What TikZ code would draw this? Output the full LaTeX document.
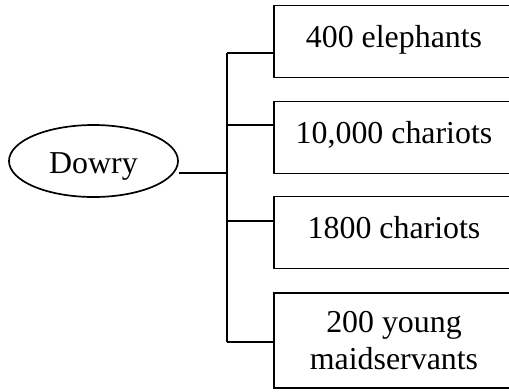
\documentclass[tikz,border=0pt]{standalone}
\usepackage{fontspec}
\setmainfont{Liberation Serif}
\usetikzlibrary{shapes.geometric}

\tikzset{
  txt/.style={font=\fontsize{32}{37}\selectfont},
  itembox/.style={txt, draw, inner sep=0pt, minimum width=240bp},
  oneline/.style={itembox, text height=41.5bp, text depth=30.5bp, anchor=base},
  rootnode/.style={txt, draw, ellipse, inner sep=0pt, minimum width=169bp,
    minimum height=72bp, text height=24bp, text depth=0pt},
}

\begin{document}
\begin{tikzpicture}[x=1bp, y=-1bp, line width=1.7bp]
  \useasboundingbox (0,0) rectangle (509,391);
  \clip (0,0) rectangle (509,391);

  % root
  \node[rootnode] (dowry) at (93.5,161) {Dowry};

  % the four items
  \node[oneline] (elephants) at (394,47) {400 elephants};
  \node[oneline] (chariotsA) at (394,143) {10,000 chariots};
  \node[oneline] (chariotsB) at (394,238) {1800 chariots};
  \node[itembox, align=center, minimum height=95bp] (maids) at (394,340.5)
    {200 young\\maidservants};

  % trunk and branch points
  \coordinate (hub) at (227,173);
  \coordinate (b1) at (227,53);
  \coordinate (b2) at (227,125);
  \coordinate (b3) at (227,221);
  \coordinate (b4) at (227,342);

  \draw (dowry.east |- hub) -- (hub);
  \draw (b1) -- (b4);
  \draw (b1) -- (b1 -| elephants.west);
  \draw (b2) -- (b2 -| chariotsA.west);
  \draw (b3) -- (b3 -| chariotsB.west);
  \draw (b4) -- (b4 -| maids.west);
\end{tikzpicture}
\end{document}
